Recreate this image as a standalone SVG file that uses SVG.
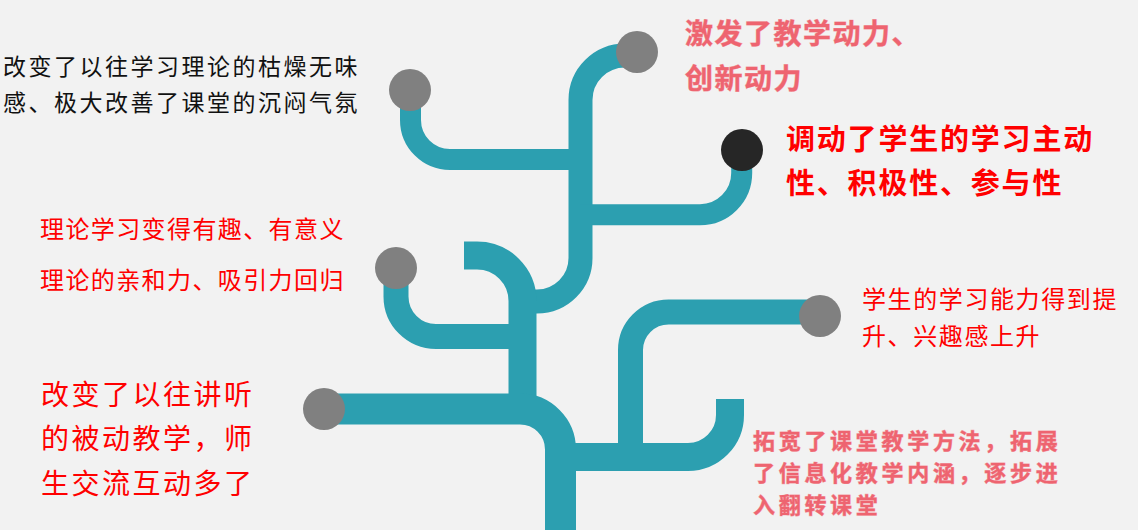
<svg xmlns="http://www.w3.org/2000/svg" width="1138" height="530" viewBox="0 0 1138 530">
<style>
.br{fill:none;stroke:#2C9FB0;stroke-linecap:butt;stroke-linejoin:round}
.nd{fill:#808080}
.t{font-family:"Noto Sans CJK SC","Noto Sans",sans-serif}
.blk{fill:#111111}
.red{fill:#FF0000}
.redb{fill:#FF0000;font-weight:700}
.pink{fill:#EE6470;font-weight:700;stroke:#F3A3A9;stroke-width:0.8;paint-order:stroke}
</style>
<rect width="1138" height="530" fill="#F2F2F2"/>
<g id="connectors">
<path class="br" stroke-width="24" d="M637,55.5 H625 A44.5,44.5 0 0 0 580.5,100 V258 A43.5,43.5 0 0 1 537,301.5 H522"/>
<path class="br" stroke-width="21" d="M410.5,90 V120 A39.5,39.5 0 0 0 450,159.5 H581"/>
<path class="br" stroke-width="21" d="M741.7,150 V173 A41.7,41.7 0 0 1 700,214.7 H580"/>
<path class="br" stroke-width="28" d="M464,255.5 H477 A45.5,45.5 0 0 1 522.5,301 V410"/>
<path class="br" stroke-width="25" d="M396,268 V296.5 A40,40 0 0 0 436,336.5 H523"/>
<path class="br" stroke-width="31" d="M324,409 H520 A40.5,40.5 0 0 1 560.5,449.5 V530"/>
<path class="br" stroke-width="25" d="M820,312 H668.6 A38.1,38.1 0 0 0 630.5,350.1 V458"/>
<path class="br" stroke-width="28" d="M560,457 H688 A42,42 0 0 0 730,415 V399"/>
</g>
<g id="node-top"><circle class="nd" cx="637" cy="52" r="21"/>
<text class="t pink" font-size="28" letter-spacing="1.5"><tspan x="685" y="44">激发了教学动力、</tspan><tspan x="685" y="89">创新动力</tspan></text></g>
<g id="node-topleft"><circle class="nd" cx="410" cy="90" r="21"/>
<text class="t blk" font-size="23" letter-spacing="2.5"><tspan x="3" y="75">改变了以往学习理论的枯燥无味</tspan><tspan x="3" y="111">感、极大改善了课堂的沉闷气氛</tspan></text></g>
<g id="node-black"><circle fill="#262626" cx="742" cy="150" r="21"/>
<text class="t redb" font-size="29" letter-spacing="1.8"><tspan x="786" y="150">调动了学生的学习主动</tspan><tspan x="786" y="194">性、积极性、参与性</tspan></text></g>
<g id="node-midleft"><circle class="nd" cx="396" cy="268" r="21"/>
<text class="t red" font-size="24" letter-spacing="1.4"><tspan x="40" y="238">理论学习变得有趣、有意义</tspan><tspan x="40" y="289">理论的亲和力、吸引力回归</tspan></text></g>
<g id="node-left"><circle class="nd" cx="324" cy="409" r="21"/>
<text class="t red" font-size="28" letter-spacing="2.5"><tspan x="41" y="405">改变了以往讲听</tspan><tspan x="41" y="449">的被动教学，师</tspan><tspan x="41" y="494">生交流互动多了</tspan></text></g>
<g id="node-right"><circle class="nd" cx="820" cy="316" r="21"/>
<text class="t red" font-size="24" letter-spacing="1.6"><tspan x="862" y="308">学生的学习能力得到提</tspan><tspan x="862" y="345">升、兴趣感上升</tspan></text></g>
<g id="node-bottomright">
<text class="t pink" font-size="22" letter-spacing="3.7"><tspan x="753" y="449">拓宽了课堂教学方法，拓展</tspan><tspan x="753" y="481">了信息化教学内涵，逐步进</tspan><tspan x="753" y="513">入翻转课堂</tspan></text></g>
</svg>
